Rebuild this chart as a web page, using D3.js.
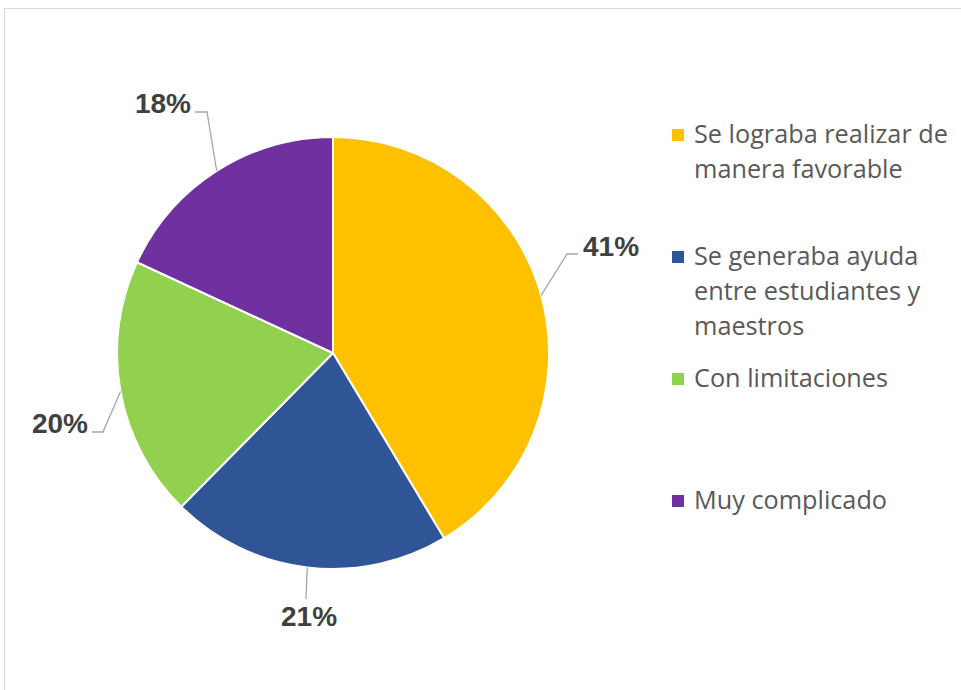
<!DOCTYPE html>
<html>
<head>
<meta charset="utf-8">
<script src="https://cdn.jsdelivr.net/npm/d3@7"></script>
<style>
  html, body { margin: 0; padding: 0; background: #fff; }
  svg { display: block; }
</style>
</head>
<body>
<svg id="chart" width="961" height="690"></svg>
<script>
// ---- data ----
const categories = [
  "Se lograba realizar de manera favorable",
  "Se generaba ayuda entre estudiantes y maestros",
  "Con limitaciones",
  "Muy complicado"
];
const legendLines = [
  ["Se lograba realizar de", "manera favorable"],
  ["Se generaba ayuda", "entre estudiantes y", "maestros"],
  ["Con limitaciones"],
  ["Muy complicado"]
];
const values = [41.4, 21.0, 19.5, 18.1];
const colors = ["#FFC000", "#2F5597", "#92D050", "#7030A0"];

// ---- layout ----
const W = 961, H = 690;
const cx = 333, cy = 353, R = 216;
const labelLayout = [
  { elbow: [234, -99], end: [245, -99], text: [250, -97], anchor: "start" },
  { elbow: null,       end: [-27, 246], text: [-24, 273], anchor: "middle" },
  { elbow: [-230, 79], end: [-241, 79], text: [-245, 80], anchor: "end" },
  { elbow: [-126, -241], end: [-138, -241], text: [-142, -240], anchor: "end" }
];

const svg = d3.select("#chart");

svg.append("rect")
  .attr("x", 4.5).attr("y", 8.5)
  .attr("width", W + 10).attr("height", H + 10)
  .attr("fill", "none").attr("stroke", "#d9d9d9").attr("stroke-width", 1);

const pie = d3.pie().sort(null).value(d => d)(values);
const arc = d3.arc().innerRadius(0).outerRadius(R);

const g = svg.append("g").attr("transform", `translate(${cx},${cy})`);

g.selectAll("path.slice")
  .data(pie)
  .join("path")
  .attr("class", "slice")
  .attr("d", arc)
  .attr("fill", (d, i) => colors[i])
  .attr("stroke", "#fff")
  .attr("stroke-width", 2)
  .attr("stroke-linejoin", "round");

g.selectAll("path.leader")
  .data(pie)
  .join("path")
  .attr("class", "leader")
  .attr("fill", "none")
  .attr("stroke", "#a6a6a6")
  .attr("stroke-width", 1.3)
  .attr("d", (d, i) => {
    const a = (d.startAngle + d.endAngle) / 2;
    const p0 = [R * Math.sin(a), -R * Math.cos(a)];
    const L = labelLayout[i];
    const pts = [p0];
    if (L.elbow) pts.push(L.elbow);
    pts.push(L.end);
    return d3.line()(pts);
  });

const total = d3.sum(values);
g.selectAll("text.pct")
  .data(pie)
  .join("text")
  .attr("class", "pct")
  .attr("x", (d, i) => labelLayout[i].text[0])
  .attr("y", (d, i) => labelLayout[i].text[1])
  .attr("text-anchor", (d, i) => labelLayout[i].anchor)
  .attr("font-family", "'Liberation Sans', Arial, sans-serif")
  .attr("font-weight", "bold")
  .attr("font-size", 28)
  .attr("fill", "#404040")
  .text(d => Math.round(d.data / total * 100) + "%");

// legend
const legend = svg.append("g");
const legX = 672, textX = 694, firstBase = 143, itemGap = 122, lineH = 35;
const legendFont = "'Open Sans', sans-serif";
const probe = svg.append("text").attr("font-family", legendFont).attr("font-size", 100).text(legendLines[0][0]);
const probeW = probe.node().getComputedTextLength();
probe.remove();
const legendSize = Math.min(26, 100 * 254 / probeW);

const items = legend.selectAll("g.item")
  .data(categories)
  .join("g")
  .attr("class", "item")
  .attr("transform", (d, i) => `translate(0,${firstBase + itemGap * i})`);

items.append("rect")
  .attr("x", legX).attr("y", -14)
  .attr("width", 12).attr("height", 12)
  .attr("fill", (d, i) => colors[i]);

items.append("text")
  .attr("font-family", legendFont)
  .attr("font-size", legendSize)
  .attr("fill", "#595959")
  .selectAll("tspan")
  .data((d, i) => legendLines[i])
  .join("tspan")
  .attr("x", textX)
  .attr("y", (d, j) => j * lineH)
  .text(d => d);
</script>
</body>
</html>
